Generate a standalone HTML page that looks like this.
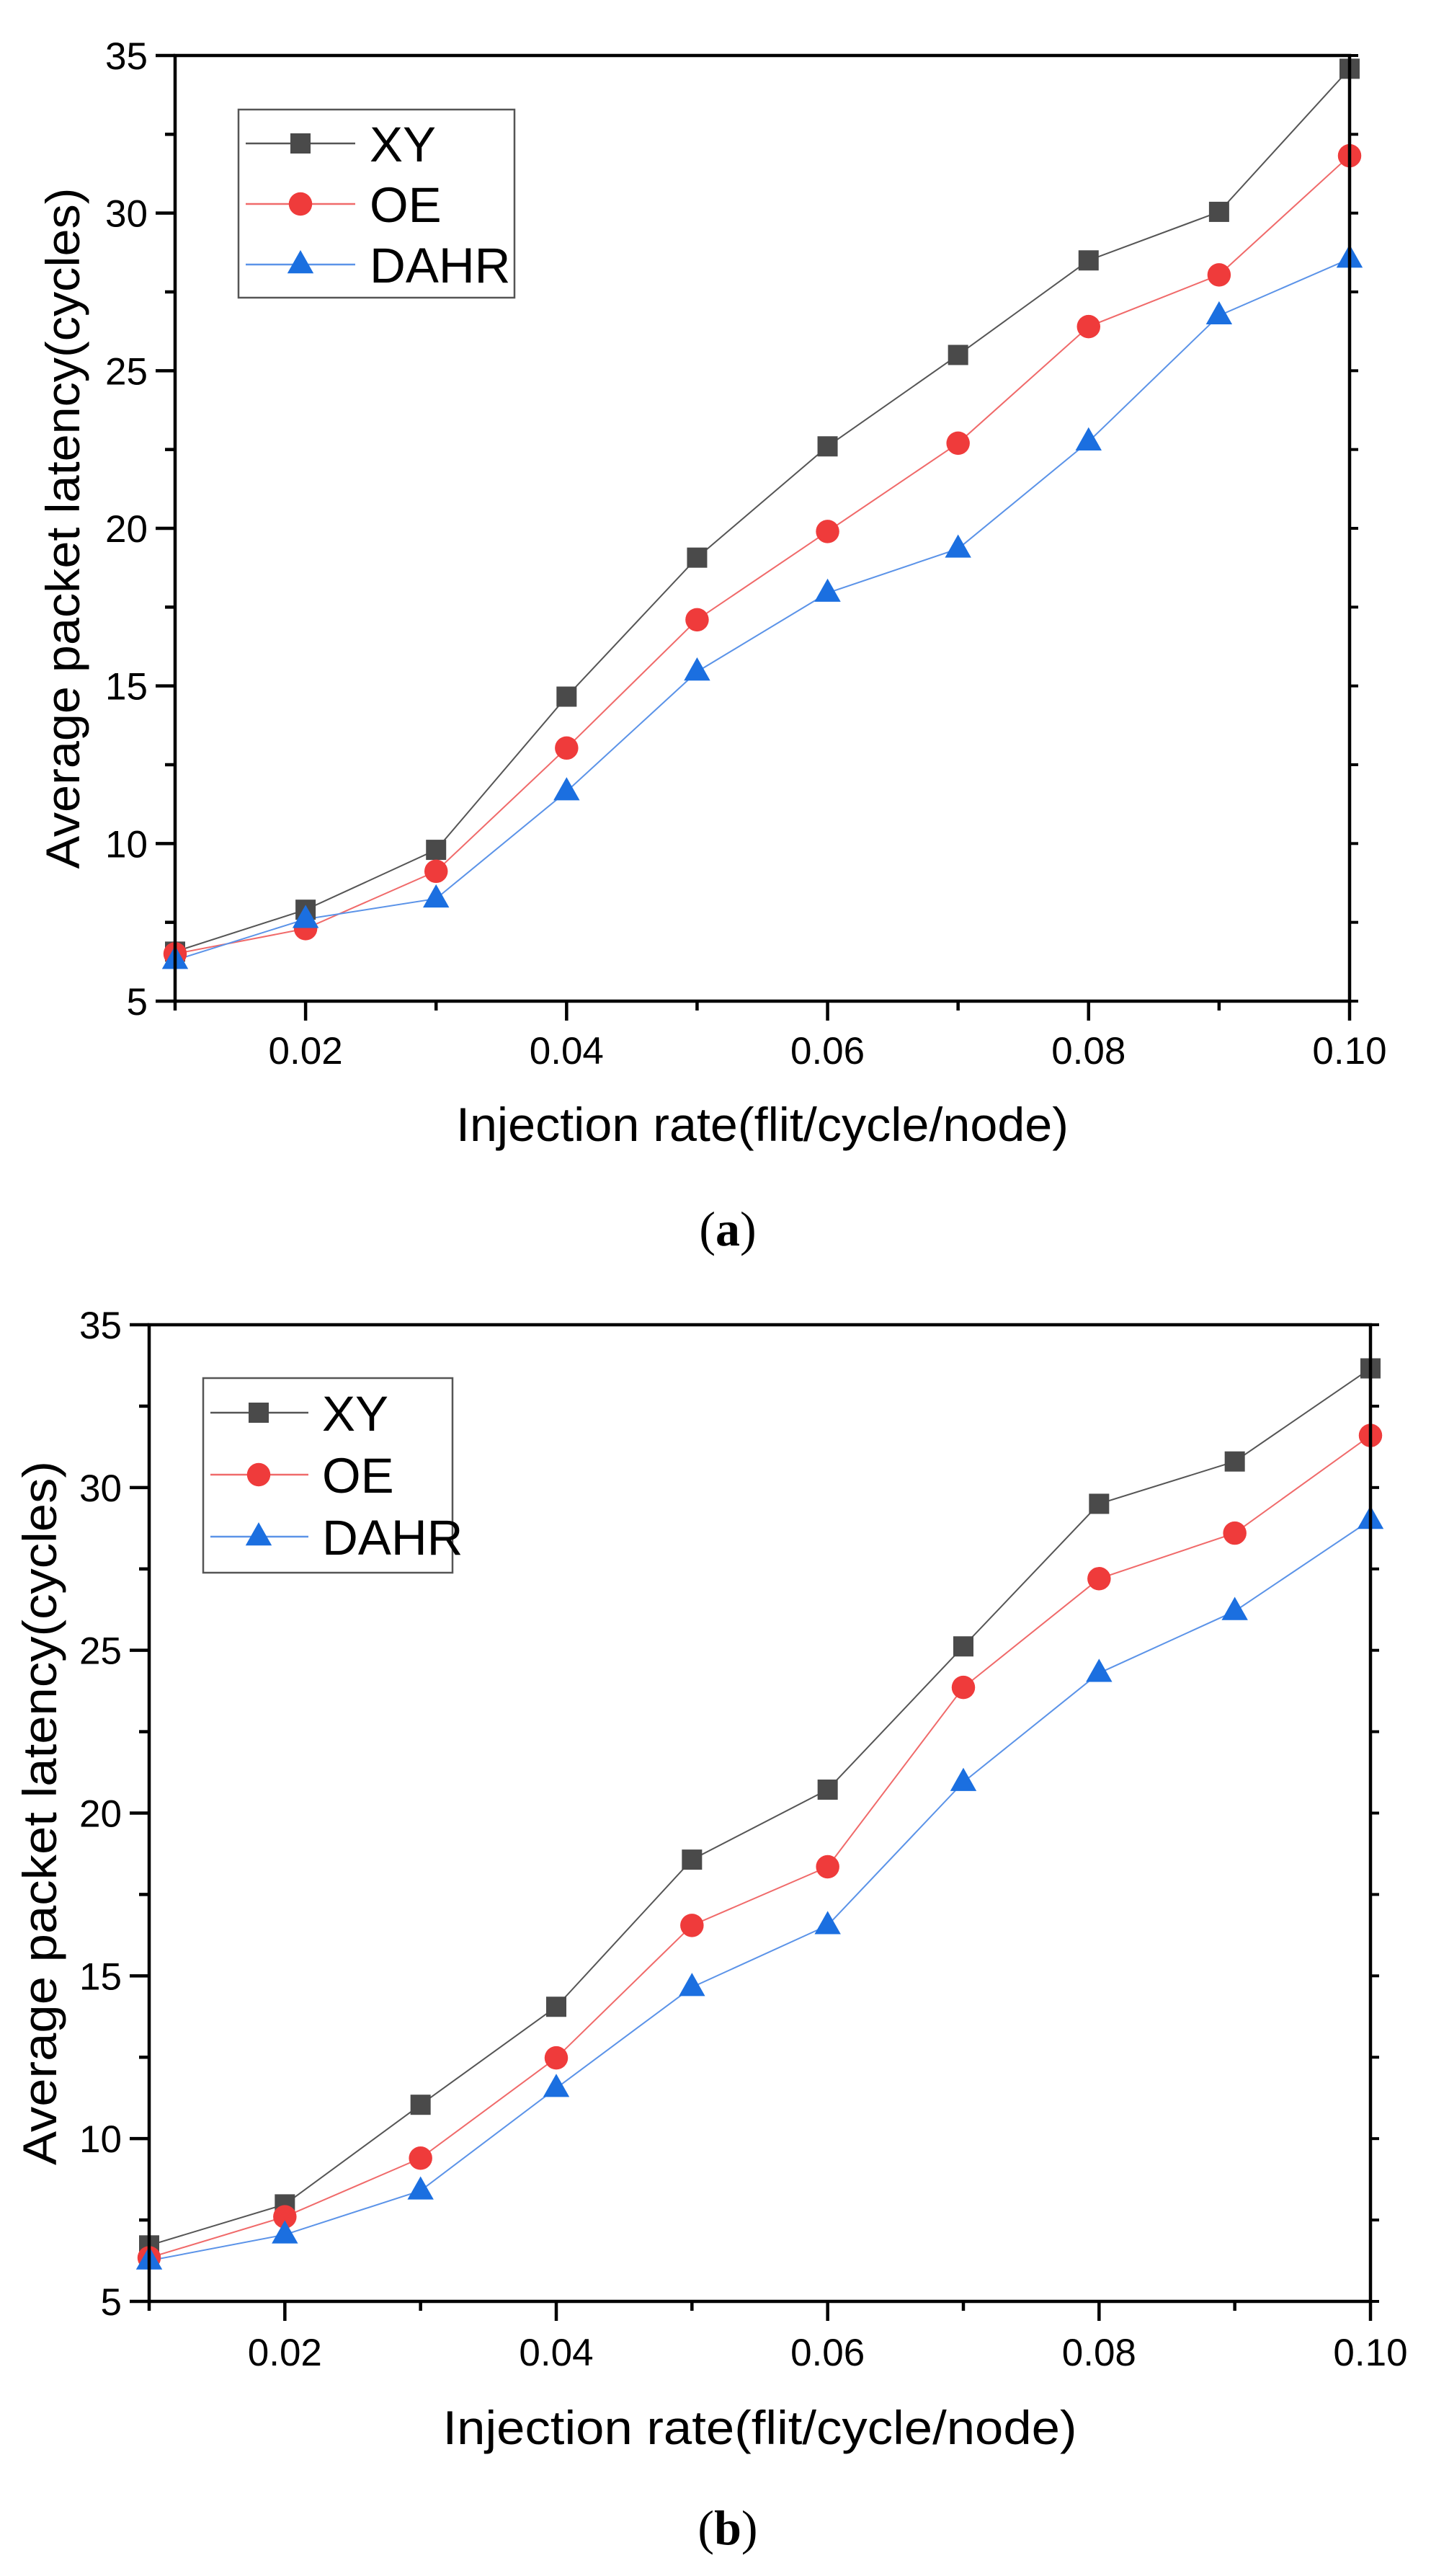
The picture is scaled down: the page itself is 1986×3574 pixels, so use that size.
<!DOCTYPE html>
<html><head><meta charset="utf-8">
<style>
html,body{margin:0;padding:0;background:#fff;}
svg{display:block;}
text{font-family:"Liberation Sans",Arial,sans-serif;fill:#000;}
.cap{font-family:"Liberation Serif","Times New Roman",serif;}
</style></head>
<body>
<svg id="fig" width="1986" height="3574" viewBox="0 0 1986 3574" xmlns="http://www.w3.org/2000/svg"></svg>
<script>
const xCategories = [0.01,0.02,0.03,0.04,0.05,0.06,0.07,0.08,0.09,0.10];
const xTickValues = [0.02,0.04,0.06,0.08,0.10];
const xTickLabels = ["0.02","0.04","0.06","0.08","0.10"];
const yTickValues = [5,10,15,20,25,30,35];
const yTickLabels = ["5","10","15","20","25","30","35"];
const seriesNames = ["XY","OE","DAHR"];
const aXY   = [6.57,7.9,9.8,14.66,19.07,22.6,25.5,28.5,30.04,34.58];
const aOE   = [6.5,7.3,9.12,13.03,17.1,19.9,22.7,26.4,28.04,31.82];
const aDAHR = [6.3,7.6,8.25,11.65,15.45,17.95,19.35,22.75,26.75,28.55];
const bXY   = [6.72,7.98,11.04,14.05,18.57,20.72,25.12,29.5,30.8,33.66];
const bOE   = [6.34,7.6,9.4,12.48,16.55,18.35,23.86,27.2,28.6,31.6];
const bDAHR = [6.25,7.05,8.4,11.55,14.65,16.55,20.95,24.3,26.2,29.0];

const NS="http://www.w3.org/2000/svg";
const svg=document.getElementById('fig');
function mk(tag,attrs,parent){const e=document.createElementNS(NS,tag);for(const k in attrs)e.setAttribute(k,attrs[k]);(parent||svg).appendChild(e);return e;}

const colors={line:["#555555","#f06a6a","#5b93e8"],mark:["#4a4a4a","#ef3b3b","#1b6fe0"]};

function marker(g,type,cx,cy,s){
  let m;
  if(type===0){m=mk('rect',{x:cx-s/2,y:cy-s/2,width:s,height:s,fill:colors.mark[0]},g);}
  else if(type===1){m=mk('circle',{cx:cx,cy:cy,r:s*0.58,fill:colors.mark[1]},g);}
  else {const w=s*1.3,h=s*1.15;m=mk('polygon',{points:`${cx},${cy-h*0.62} ${cx-w/2},${cy+h*0.38} ${cx+w/2},${cy+h*0.38}`,fill:colors.mark[2]},g);}
  return m;
}

function chart(cfg,series,id){
  const g=mk('g',{});
  
  
  const {L,R,T,B}=cfg;
  const xs=v=>L+(v-0.01)/(0.10-0.01)*(R-L);
  const ys=v=>B-(v-5)/(35-5)*(B-T);
  // series
  series.forEach((vals,si)=>{
    const sg=mk('g',{},g);
    
    
    const pts=vals.map((v,i)=>xs(xCategories[i])+','+ys(v)).join(' ');
    const pl=mk('polyline',{points:pts,fill:'none',stroke:colors.line[si],'stroke-width':2},sg);
    
    
  });
  series.forEach((vals,si)=>{
    vals.forEach((v,i)=>{
      const m=marker(g,si,xs(xCategories[i]),ys(v),cfg.ms);
      
      
    });
  });
  // frame
  const fr=mk('rect',{x:L,y:T,width:R-L,height:B-T,fill:'none',stroke:'#000','stroke-width':4.5},g);
  
  
  // y ticks
  const ya=mk('g',{},g);
  
  
  yTickValues.forEach((v,i)=>{
    const y=ys(v);
    mk('line',{x1:L-27,x2:L,y1:y,y2:y,stroke:'#000','stroke-width':4.5},ya);
    mk('line',{x1:R,x2:R+12,y1:y,y2:y,stroke:'#000','stroke-width':4},ya);
    const t=mk('text',{x:L-38,y:y+19,'font-size':53,'text-anchor':'end'},ya);
    t.textContent=yTickLabels[i];
    
    
    if(i<yTickValues.length-1){
      const ym=ys(v+2.5);
      mk('line',{x1:L-14,x2:L,y1:ym,y2:ym,stroke:'#000','stroke-width':4.5},ya);
      mk('line',{x1:R,x2:R+12,y1:ym,y2:ym,stroke:'#000','stroke-width':4},ya);
    }
  });
  // x ticks
  const xa=mk('g',{},g);
  
  
  xCategories.forEach(v=>{
    const x=xs(v);const major=xTickValues.some(t=>Math.abs(t-v)<1e-9);
    mk('line',{x1:x,x2:x,y1:B,y2:B+(major?27:13),stroke:'#000','stroke-width':4.5},xa);
  });
  xTickValues.forEach((v,i)=>{
    const t=mk('text',{x:xs(v),y:cfg.xl,'font-size':53,'text-anchor':'middle'},xa);
    t.textContent=xTickLabels[i];
    
    
  });
  // titles
  const xt=mk('text',{x:(L+R)/2,y:cfg.xtY,'font-size':66,'text-anchor':'middle',textLength:cfg.xtW,lengthAdjust:'spacingAndGlyphs'},g);
  xt.textContent='Injection rate(flit/cycle/node)';
  
  
  const yt=mk('text',{x:0,y:0,'font-size':66,'text-anchor':'middle',textLength:cfg.ytW,lengthAdjust:'spacingAndGlyphs',transform:`translate(${cfg.ytX},${(T+B)/2}) rotate(-90)`},g);
  yt.textContent='Average packet latency(cycles)';
  
  
  // legend
  const lg=mk('g',{},g);
  
  
  const lb=cfg.leg;
  mk('rect',{x:lb.x,y:lb.y,width:lb.w,height:lb.h,fill:'#fff',stroke:'#555','stroke-width':2.5},lg);
  seriesNames.forEach((n,si)=>{
    const eg=mk('g',{},lg);
    
    
    const y=lb.r0+si*lb.dr;
    mk('line',{x1:lb.l1,x2:lb.l2,y1:y,y2:y,stroke:colors.line[si],'stroke-width':2.5},eg);
    marker(eg,si,lb.mx,y,28);
    const t=mk('text',{x:lb.tx,y:y+25,'font-size':69},eg);
    t.textContent=n;
  });
  // caption
  const c=mk('text',{x:cfg.capX,y:cfg.capY,'font-size':68,'text-anchor':'middle',class:'cap'},g);
  
  
  c.appendChild(document.createTextNode('('));
  const b=mk('tspan',{'font-weight':'bold'},c);b.textContent=id;
  c.appendChild(document.createTextNode(')'));
}

chart({L:243,R:1873,T:77,B:1389,ms:28,xl:1476,xtY:1583,xtW:850,ytX:110,ytW:945,capX:1010,capY:1728,
  leg:{x:331,y:152,w:383,h:261,r0:199,dr:84,l1:341,l2:493,mx:417,tx:513}},[aXY,aOE,aDAHR],'a');
chart({L:207,R:1902,T:1838,B:3193,ms:28,xl:3282,xtY:3391,xtW:880,ytX:78,ytW:977,capX:1010,capY:3530,
  leg:{x:282,y:1912,w:346,h:270,r0:1960,dr:86,l1:292,l2:428,mx:359,tx:447}},[bXY,bOE,bDAHR],'b');
</script>
</body></html>
